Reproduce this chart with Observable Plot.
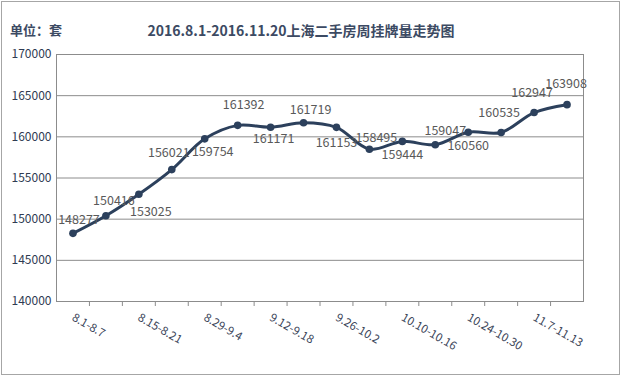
<!DOCTYPE html>
<html><head><meta charset="utf-8">
<script src="https://cdn.jsdelivr.net/npm/d3@7"></script>
<script src="https://cdn.jsdelivr.net/npm/@observablehq/plot@0.6"></script>
<style>
body{margin:0;background:#fff;}
#wrap{position:relative;width:622px;height:376px;overflow:hidden;font-family:"Noto Sans CJK SC","Noto Sans",sans-serif;background:#fff;}
#border{position:absolute;left:1px;top:1px;width:617px;height:372px;border:1px solid #a6a6a6;}
#unit{position:absolute;left:10px;top:20px;font-size:13px;font-weight:bold;color:#3c4a63;line-height:20px;}
#title{position:absolute;left:0;width:602px;top:20px;text-align:center;font-size:14px;font-weight:bold;color:#3c4a63;line-height:20px;}
#chart{position:absolute;left:0;top:0;}
</style></head>
<body>
<div id="wrap">
<div id="border"></div>
<div id="unit">单位：套</div>
<div id="title">2016.8.1-2016.11.20上海二手房周挂牌量走势图</div>
<div id="chart"></div>
</div>
<script>
const weeks = ["8.1-8.7","8.8-8.14","8.15-8.21","8.22-8.28","8.29-9.4","9.5-9.11","9.12-9.18","9.19-9.25","9.26-10.2","10.3-10.9","10.10-10.16","10.17-10.23","10.24-10.30","10.31-11.6","11.7-11.13","11.14-11.20"];
const listings = [148277,150416,153025,156021,159754,161392,161171,161719,161153,158495,159444,159047,160560,160535,162947,163908];
const yTicks = [140000,145000,150000,155000,160000,165000,170000];
// label offsets (style only)
const labelDx = [6,8,12,-3,8,6,3,7,0,7,0,10,0,-2,-2,-1];
const labelDy = [-13,-15,18,-17,13,-20,12,-13,16,-11,14,-14,14,-19,-20,-21];

const data = weeks.map((w,i)=>({i, week:w, value:listings[i]}));
const boundaries = d3.range(0.5, weeks.length - 1, 1);
const labelIdx = d3.range(0, weeks.length, 2);
const lineColor = "#2c405c";

const plot = Plot.plot({
  width:622, height:376,
  marginLeft:56, marginRight:39, marginTop:54, marginBottom:75,
  style:{fontFamily:'"Noto Sans CJK SC","Noto Sans",sans-serif', background:"transparent", overflow:"visible"},
  x:{type:"linear", domain:[-0.5, weeks.length-0.5]},
  y:{domain:[140000,170000]},
  marks:[
    Plot.gridY(yTicks,{stroke:"#8c8c8c", strokeOpacity:1}),
    Plot.frame({stroke:"#8c8c8c"}),
    Plot.axisY(yTicks,{tickSize:0, tickPadding:5, fontSize:12, color:"#2f3b52", label:null, tickFormat:d=>String(d)}),
    Plot.axisX(boundaries,{tickSize:5, tickFormat:()=>"", stroke:"#8c8c8c", label:null}),
    Plot.axisX(labelIdx,{tickSize:0, tickPadding:15, tickRotate:30, tickFormat:i=>weeks[i], fontSize:11.5, color:"#3a4458", label:null}),
    Plot.line(data,{x:"i", y:"value", curve:"catmull-rom", stroke:lineColor, strokeWidth:3}),
    Plot.dot(data,{x:"i", y:"value", r:3.8, fill:lineColor, stroke:"none"}),
    ...data.map((d,k)=>Plot.text([d],{x:"i", y:"value", text:e=>String(e.value), dx:labelDx[k], dy:labelDy[k], fontSize:12.5, fill:"#595959"}))
  ]
});
document.getElementById("chart").appendChild(plot);
</script>
</body></html>
